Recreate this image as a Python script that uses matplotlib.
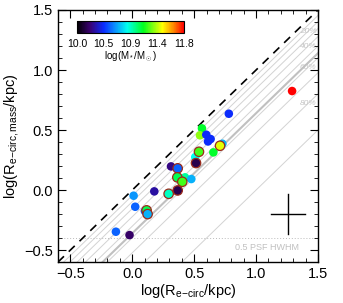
import numpy as np
import matplotlib
matplotlib.use('Agg')
import matplotlib.pyplot as plt
from matplotlib.colors import LinearSegmentedColormap, Normalize
from matplotlib.ticker import MultipleLocator

plt.rcParams['font.family'] = ['Liberation Sans', 'DejaVu Sans']
plt.rcParams['mathtext.fontset'] = 'custom'
plt.rcParams['mathtext.rm'] = 'Liberation Sans'
plt.rcParams['mathtext.it'] = 'Liberation Sans:italic'

# light-weighted vs mass-weighted circularised sizes
r_light = [1.291, 0.780, 0.563, 0.547, 0.598, 0.633, 0.612, 0.728, 0.709, 0.539,
           0.655, 0.509, 0.515, 0.313, 0.367, 0.364, 0.426, 0.404, 0.477, 0.178,
           0.294, 0.367, 0.011, 0.024, 0.102, 0.116, 0.124, -0.132, -0.022]
r_mass = [0.825, 0.636, 0.514, 0.456, 0.461, 0.425, 0.405, 0.386, 0.369, 0.319,
          0.314, 0.275, 0.225, 0.197, 0.181, 0.106, 0.106, 0.069, 0.092, -0.011,
          -0.031, -0.003, -0.047, -0.139, -0.175, -0.169, -0.200, -0.347, -0.375]
logmass = [11.80, 10.45, 11.10, 11.30, 10.45, 10.45, 10.45, 10.70, 11.40, 11.20,
           11.10, 10.85, 10.15, 10.25, 10.55, 11.05, 10.95, 11.20, 10.70, 10.30,
           10.90, 10.15, 10.65, 10.55, 10.55, 11.05, 10.70, 10.55, 10.20]
circled = [0, 0, 0, 0, 0, 0, 0, 0, 1, 1,
           0, 0, 1, 0, 1, 1, 0, 1, 0, 0,
           1, 1, 0, 0, 0, 1, 1, 0, 0]

frac = [0.1, 0.2, 0.3, 0.4, 0.5, 0.6, 0.7, 0.8, 0.9]
frac_labels = {0.2: '20%', 0.4: '40%', 0.6: '60%', 0.8: '80%'}
cb_ticks = [10.0, 10.45, 10.9, 11.35, 11.8]
cb_ticklabels = ['10.0', '10.5', '10.9', '11.4', '11.8']

cmap = LinearSegmentedColormap.from_list('idl_rainbow', [
    (0.0, '#000000'), (0.12, '#3a0070'), (0.25, '#0a2cff'), (0.35, '#0a8cff'),
    (0.47, '#00ffee'), (0.62, '#00ff20'), (0.8, '#ffff00'), (0.9, '#ff8c00'),
    (1.0, '#ff0000')])
norm = Normalize(10.0, 11.8)

fig = plt.figure(figsize=(3.43, 3.03), dpi=100)
ax = fig.add_axes([0.169, 0.135, 0.758, 0.832])

xx = np.array([-0.6, 1.5])
for f in frac:
    ax.plot(xx, xx + np.log10(1 - f), color='#d3d3d3', lw=0.7, zorder=1)
    if f in frac_labels:
        ax.text(1.42, 1.42 + np.log10(1 - f), frac_labels[f], color='#c4c4c4',
                fontsize=6, ha='center', va='center', style='italic', zorder=1)
ax.plot(xx, xx - 0.36, color='#c0c0c0', lw=1.5, zorder=1)
ax.plot(xx, xx, color='black', lw=1.2, ls=(0, (5, 4)), zorder=2)

ax.axhline(-0.4, color='#bbbbbb', lw=0.7, ls=(0, (1, 2)), zorder=1)
ax.text(1.09, -0.48, '0.5 PSF HWHM', color='#c0c0c0', fontsize=6.5, ha='center', va='center')

# error cross
ax.plot([1.12, 1.395], [-0.2, -0.2], color='black', lw=1)
ax.plot([1.257, 1.257], [-0.368, -0.032], color='black', lw=1)

r_light = np.array(r_light)
r_mass = np.array(r_mass)
logmass = np.array(logmass)
circled = np.array(circled, dtype=bool)
ax.scatter(r_light[~circled], r_mass[~circled], c=logmass[~circled], cmap=cmap,
           norm=norm, s=38, edgecolors='none', zorder=3)
ax.scatter(r_light[circled], r_mass[circled], c=logmass[circled], cmap=cmap,
           norm=norm, s=46, edgecolors='#9a2a1a', linewidths=0.9, zorder=4)

ax.set_xlim(-0.6, 1.5)
ax.set_ylim(-0.6, 1.5)
ax.xaxis.set_major_locator(MultipleLocator(0.5))
ax.xaxis.set_minor_locator(MultipleLocator(0.1))
ax.yaxis.set_major_locator(MultipleLocator(0.5))
ax.yaxis.set_minor_locator(MultipleLocator(0.1))
ax.tick_params(which='both', direction='in', top=True, right=True, labelsize=10.5)
ax.tick_params(which='major', length=6, width=0.8)
ax.tick_params(which='minor', length=3, width=0.6)
ax.xaxis.set_major_formatter(plt.FuncFormatter(lambda v, p: f'{v:.1f}'.replace('-', '\u2212')))
ax.yaxis.set_major_formatter(plt.FuncFormatter(lambda v, p: f'{v:.1f}'.replace('-', '\u2212')))
for s in ax.spines.values():
    s.set_linewidth(1.0)
ax.set_xlabel(r'log(R$_{\rm e\!-\!circ}$/kpc)', fontsize=10.5, labelpad=1)
ax.set_ylabel(r'log(R$_{\rm e\!-\!circ,mass}$/kpc)', fontsize=10.5, labelpad=2)

# inset colorbar
cax = fig.add_axes([77 / 343, 1 - 33 / 303, 107 / 343, 12 / 303])
sm = plt.cm.ScalarMappable(norm=norm, cmap=cmap)
cb = fig.colorbar(sm, cax=cax, orientation='horizontal')
cb.set_ticks(cb_ticks)
cb.set_ticklabels(cb_ticklabels)
cb.ax.tick_params(length=0, labelsize=7.5, pad=4)
cb.outline.set_linewidth(0.8)
cb.set_label(r'log(M$_*$/M$_\odot$)', fontsize=7, labelpad=1)

fig.savefig('out.png', dpi=100)
